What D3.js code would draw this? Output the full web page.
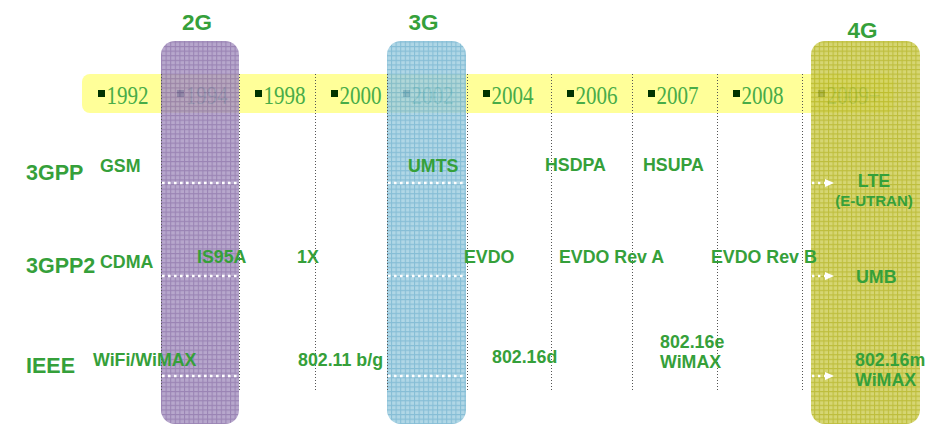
<!DOCTYPE html>
<html><head><meta charset="utf-8">
<script src="https://cdn.jsdelivr.net/npm/d3@7"></script>
<style>body{margin:0;background:#fff} svg{display:block}</style>
</head><body>
<svg id="c" width="939" height="425"></svg>
<script>
// ---------- data ----------
const years = ["1992","1994","1998","2000","2002","2004","2006","2007","2008","2009+"];
const generations = ["2G","3G","4G"];
const generationYears = ["1994","2002","2009+"];
const bodies = ["3GPP","3GPP2","IEEE"];
const techLabels = ["GSM","UMTS","HSDPA","HSUPA","LTE\n(E-UTRAN)",
  "CDMA","IS95A","1X","EVDO","EVDO Rev A","EVDO Rev B","UMB",
  "WiFi/WiMAX","802.11 b/g","802.16d","802.16e\nWiMAX","802.16m\nWiMAX"];
const techYears = ["1992","2002","2006","2007","2009+",
  "1992","1994","1998","2004","2006","2008","2009+",
  "1992","1998","2004","2007","2009+"];
const techBodies = ["3GPP","3GPP","3GPP","3GPP","3GPP",
  "3GPP2","3GPP2","3GPP2","3GPP2","3GPP2","3GPP2","3GPP2",
  "IEEE","IEEE","IEEE","IEEE","IEEE"];

// ---------- layout ----------
const svg = d3.select("#c");
const colX = d3.scaleLinear().domain(d3.range(years.length + 1))
  .range([82,161,239,315,387,467,551,632,717,802,893]);
const rowY = d3.scaleLinear().domain([0,1,2]).range([183,276,376]);
const xStart = y => colX(years.indexOf(y));
const xEnd = y => colX(years.indexOf(y) + 1);
const GREEN = "#35a03a";
const band = {y0: 74, y1: 113};
const boxTop = 41, boxBottom = 424;
const boxInset = {"2G":[0,0], "3G":[0,-1], "4G":[9,27]};
const genBaseline = {"2G":30, "3G":30, "4G":38};
const boxStyle = {
  "2G": {fill:"#ab99c4", line:"#8a70a8"},
  "3G": {fill:"#a3d0e2", line:"#72b3cf"},
  "4G": {fill:"#cfcf5c", line:"#b3b31c"}
};
const techDx = [18,21,-6,11,72, 18,36,58,-3,8,-6,54, 11,59,25,28,53];
const techDy = [-11,-11,-12,-12,4, -8,-13,-13,-13,-13,-13,7, -10,-10,-13,-28,-10];
const techAnchor = techLabels.map((d,i) => i === 4 ? "middle" : "start");

// ---------- patterns ----------
const defs = svg.append("defs");
generations.forEach(g => {
  const p = defs.append("pattern").attr("id","pat"+g)
    .attr("patternUnits","userSpaceOnUse").attr("width",4.6).attr("height",4.6);
  p.append("rect").attr("width",4.6).attr("height",4.6).attr("fill",boxStyle[g].fill);
  p.append("path").attr("d","M0,0.5H4.6M0.5,0V4.6").attr("stroke",boxStyle[g].line)
    .attr("stroke-width",1.1).attr("fill","none");
});

// ---------- yellow year band ----------
svg.append("rect").attr("x", colX(0)).attr("y", band.y0)
  .attr("width", colX(years.length) - colX(0)).attr("height", band.y1 - band.y0)
  .attr("rx", 8).attr("fill", "#ffff99");

const yearG = svg.append("g");
years.forEach(y => {
  const x0 = xStart(y);
  yearG.append("rect").attr("x", x0 + 16).attr("y", 90).attr("width", 7).attr("height", 7)
    .attr("fill", "#003300");
  const t = yearG.append("text").attr("x", x0 + 24.5).attr("y", 103.5)
    .attr("font-family", "Liberation Serif, Times New Roman, serif")
    .attr("font-size", 26).attr("fill", "#48ac48").text(y);
  const L = t.node().getComputedTextLength();
  t.attr("textLength", L * 0.81).attr("lengthAdjust", "spacingAndGlyphs");
});

// ---------- generation boxes ----------
generations.forEach((g, i) => {
  const yr = generationYears[i];
  const x0 = xStart(yr) + boxInset[g][0];
  const x1 = xEnd(yr) + boxInset[g][1];
  svg.append("rect").attr("x", x0).attr("y", boxTop).attr("width", x1 - x0)
    .attr("height", boxBottom - boxTop).attr("rx", 14)
    .attr("fill", "url(#pat" + g + ")").attr("opacity", 0.86);
  svg.append("text").attr("x", (x0 + x1) / 2 - 3).attr("y", genBaseline[g])
    .attr("text-anchor", "middle")
    .attr("font-family", "Liberation Sans, Arial, sans-serif").attr("font-weight", "bold")
    .attr("font-size", 22.5).attr("fill", GREEN).text(g);
});

// ---------- vertical dotted column separators ----------
svg.append("g").selectAll("line").data(d3.range(1, years.length)).join("line")
  .attr("x1", d => colX(d) + 0.5).attr("x2", d => colX(d) + 0.5)
  .attr("y1", band.y0).attr("y2", 390)
  .attr("stroke", "#555").attr("stroke-width", 1).attr("stroke-dasharray", "1,2");

// ---------- white dotted row lines / arrows ----------
bodies.forEach((b, r) => {
  const y = rowY(r);
  generations.forEach((g, i) => {
    const yr = generationYears[i];
    const x0 = xStart(yr) + boxInset[g][0];
    const x1 = xEnd(yr) + boxInset[g][1];
    if (g !== "4G") {
      svg.append("line").attr("x1", x0 + 1).attr("x2", x1 - 1).attr("y1", y).attr("y2", y)
        .attr("stroke", "#fff").attr("stroke-width", 2.6).attr("stroke-dasharray", "2.6,3.4");
    } else {
      svg.append("line").attr("x1", x0 + 1).attr("x2", x0 + 15).attr("y1", y).attr("y2", y)
        .attr("stroke", "#fff").attr("stroke-width", 2.4).attr("stroke-dasharray", "2.4,3.6");
      svg.append("path")
        .attr("d", `M${x0 + 14},${y - 4}L${x0 + 23},${y}L${x0 + 14},${y + 4}Z`)
        .attr("fill", "#fff");
    }
  });
  svg.append("text").attr("x", 26).attr("y", y - 3)
    .attr("font-family", "Liberation Sans, Arial, sans-serif").attr("font-weight", "bold")
    .attr("font-size", 21.5).attr("fill", GREEN).text(b);
});

// ---------- technology labels ----------
techLabels.forEach((lab, i) => {
  const x = xStart(techYears[i]) + techDx[i];
  const y = rowY(bodies.indexOf(techBodies[i])) + techDy[i];
  const t = svg.append("text").attr("x", x).attr("y", y)
    .attr("text-anchor", techAnchor[i])
    .attr("font-family", "Liberation Sans, Arial, sans-serif").attr("font-weight", "bold")
    .attr("font-size", 17.8).attr("fill", GREEN);
  lab.split("\n").forEach((line, k) => {
    const ts = t.append("tspan").attr("x", x).attr("dy", k === 0 ? 0 : 20).text(line);
    if (line.startsWith("(")) ts.attr("font-size", 15).attr("dy", 19);
  });
});
</script>
</body></html>
